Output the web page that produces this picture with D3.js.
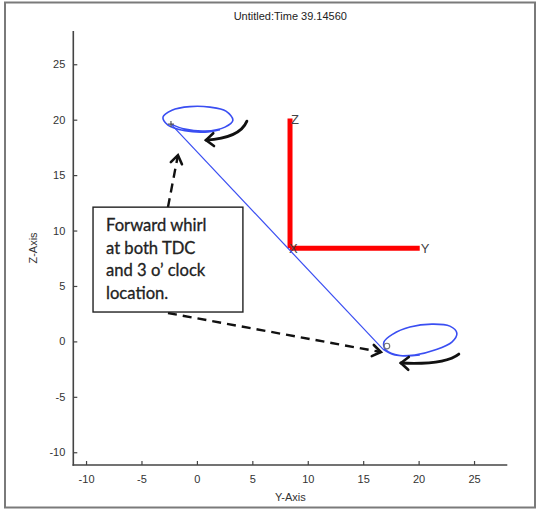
<!DOCTYPE html>
<html>
<head>
<meta charset="utf-8">
<script src="https://cdn.jsdelivr.net/npm/d3@7"></script>
<style>
  html, body { margin: 0; padding: 0; background: #fff; }
  svg { display: block; }
</style>
</head>
<body>
<svg id="chart" width="540" height="510"></svg>
<script>
// ---- data (Y = horizontal, Z = vertical) ----
const titleText = "Untitled:Time 39.14560";
const tickValues = [-10, -5, 0, 5, 10, 15, 20, 25];
const axisDomain = [-11.15, 28];

// shaft centre line between the two bearing stations
const shaftY = [-2.34, 16.78];
const shaftZ = [19.6, -0.69];

// whirl orbit traced at the upper station
const orbitTopY = [-2.34, -1.08, 0.73, 2.53, 3.25, 2.62, 1.18, -0.63, -2.25, -3.06, -2.61, -1.08, 0.73, 2.08];
const orbitTopZ = [19.6, 19.15, 18.97, 19.33, 19.96, 20.77, 21.13, 21.18, 20.86, 20.23, 19.51, 19.0, 18.88, 19.1];

// whirl orbit traced at the lower station
const orbitBotY = [16.78, 17.86, 19.66, 21.46, 23.0, 23.45, 22.82, 21.19, 19.21, 17.68, 16.87, 17.05, 18.31, 20.11];
const orbitBotZ = [-0.69, -1.23, -1.23, -0.78, -0.06, 0.75, 1.38, 1.56, 1.29, 0.66, -0.06, -0.78, -1.28, -1.23];

// reference triad
const triadOrigin = [8.4, 8.4];
const triadEndY = [20.1, 8.4];
const triadEndZ = [8.4, 20.1];

// annotation
const noteLines = ["Forward whirl", "at both TDC", "and 3 o\u2019 clock", "location."];
const noteBox = { y0: -9.37, y1: 4.15, z0: 12.11, z1: 2.65 };
const dashArrows = [
  { from: [-2.61, 12.11], to: [-1.71, 16.8] },
  { from: [-2.61, 2.56], to: [16.6, -0.96] }
];
const curveArrows = [
  { from: [4.51, 19.87], ctrl: [3.88, 18.34], to: [0.82, 18.16] },
  { from: [23.63, -1.14], ctrl: [22.37, -2.13], to: [18.4, -1.95] }
];

// ---- layout ----
const svg = d3.select("#chart");
const plotLeft = 73.3, plotRight = 507.3, plotTop = 31, plotBottom = 465;
const x = d3.scaleLinear().domain(axisDomain).range([plotLeft, plotRight]);
const y = d3.scaleLinear().domain(axisDomain).range([plotBottom, plotTop]);

// window frame
svg.append("rect")
  .attr("x", 5).attr("y", 2.5).attr("width", 530).attr("height", 505)
  .attr("fill", "#fff").attr("stroke", "#7a7a7a").attr("stroke-width", 2);

// title
svg.append("text")
  .attr("x", (plotLeft + plotRight) / 2).attr("y", 20)
  .attr("text-anchor", "middle")
  .attr("font-family", "Liberation Sans, Arial, sans-serif")
  .attr("font-size", 11).attr("fill", "#222")
  .text(titleText);

// axes (MATLAB style: ticks inside, plain hyphen minus)
const axisFont = "Liberation Sans, Arial, sans-serif";
const plain = d => String(d);
const gx = svg.append("g").attr("transform", `translate(0,${plotBottom})`)
  .call(d3.axisBottom(x).tickValues(tickValues).tickFormat(plain).tickSizeInner(-4).tickSizeOuter(0).tickPadding(10));
const gy = svg.append("g").attr("transform", `translate(${plotLeft},0)`)
  .call(d3.axisLeft(y).tickValues(tickValues).tickFormat(plain).tickSizeInner(-4).tickSizeOuter(0).tickPadding(8));
[gx, gy].forEach(g => {
  g.select(".domain").attr("stroke", "#444").attr("stroke-width", 1.6);
  g.selectAll(".tick line").attr("stroke", "#444").attr("stroke-width", 1.2);
  g.selectAll(".tick text").attr("font-family", axisFont).attr("font-size", 11).attr("fill", "#333");
});
// let the two axis lines meet at the corner
gx.select(".domain").attr("d", `M${plotLeft - 0.8},0H${plotRight}`);
gy.select(".domain").attr("d", `M0,${plotTop}V${plotBottom + 0.8}`);

svg.append("text")
  .attr("x", (plotLeft + plotRight) / 2).attr("y", 501)
  .attr("text-anchor", "middle")
  .attr("font-family", axisFont).attr("font-size", 11).attr("fill", "#333")
  .text("Y-Axis");
svg.append("text")
  .attr("transform", `translate(37,${(plotTop + plotBottom) / 2}) rotate(-90)`)
  .attr("text-anchor", "middle")
  .attr("font-family", axisFont).attr("font-size", 11).attr("fill", "#333")
  .text("Z-Axis");

// reference triad
const triad = svg.append("g");
triadEndY.forEach((ey, i) => {
  triad.append("line")
    .attr("x1", x(triadOrigin[0])).attr("y1", y(triadOrigin[1]))
    .attr("x2", x(ey)).attr("y2", y(triadEndZ[i]))
    .attr("stroke", "#ff0000").attr("stroke-width", 5);
});
const triadLabel = (t, px, py, anchor) => triad.append("text")
  .attr("x", px).attr("y", py).attr("text-anchor", anchor)
  .attr("font-family", axisFont).attr("font-size", 13).attr("fill", "#444").text(t);
triadLabel("X", x(triadOrigin[0]) - 1, y(triadOrigin[1]) + 5, "start");
triadLabel("Y", x(triadEndY[0]) + 1, y(triadEndZ[0]) + 5, "start");
triadLabel("Z", x(triadEndY[1]) + 1, y(triadEndZ[1]) + 5, "start");

// shaft line
const blue = "#3a4ef2";
svg.append("line")
  .attr("x1", x(shaftY[0])).attr("y1", y(shaftZ[0]))
  .attr("x2", x(shaftY[1])).attr("y2", y(shaftZ[1]))
  .attr("stroke", blue).attr("stroke-width", 1.2);

// orbits
const orbitLine = d3.line().x(d => x(d[0])).y(d => y(d[1])).curve(d3.curveCatmullRom.alpha(0.5));
[[orbitTopY, orbitTopZ], [orbitBotY, orbitBotZ]].forEach(([oy, oz]) => {
  svg.append("path")
    .attr("d", orbitLine(oy.map((v, i) => [v, oz[i]])))
    .attr("fill", "none").attr("stroke", blue).attr("stroke-width", 1.6);
});

// station markers
svg.append("path")
  .attr("d", `M${x(shaftY[0]) - 3},${y(shaftZ[0])}h6M${x(shaftY[0])},${y(shaftZ[0]) - 3}v6`)
  .attr("stroke", "#555").attr("stroke-width", 1.2);
svg.append("circle")
  .attr("cx", x(shaftY[1]) + 4).attr("cy", y(shaftZ[1]) - 3).attr("r", 2.8)
  .attr("fill", "none").attr("stroke", "#777").attr("stroke-width", 1.2);

// arrowhead helper: open chevron at the tip, pointing along angle ang
function chevron(g, tx, ty, ang, len, spread) {
  const a1 = ang + Math.PI - spread, a2 = ang + Math.PI + spread;
  g.append("path")
    .attr("d", `M${tx + len * Math.cos(a1)},${ty + len * Math.sin(a1)}L${tx},${ty}L${tx + len * Math.cos(a2)},${ty + len * Math.sin(a2)}`)
    .attr("fill", "none").attr("stroke", "#111").attr("stroke-width", 2.6)
    .attr("stroke-linejoin", "miter").attr("stroke-linecap", "round");
}

const notes = svg.append("g");

// dashed arrows from the note
dashArrows.forEach(a => {
  const x1 = x(a.from[0]), y1 = y(a.from[1]), x2 = x(a.to[0]), y2 = y(a.to[1]);
  notes.append("line")
    .attr("x1", x1).attr("y1", y1).attr("x2", x2).attr("y2", y2)
    .attr("stroke", "#111").attr("stroke-width", 2.4).attr("stroke-dasharray", "9,6");
  chevron(notes, x2, y2, Math.atan2(y2 - y1, x2 - x1), 10, 0.6);
});

// curved direction arrows
curveArrows.forEach(a => {
  const p0 = [x(a.from[0]), y(a.from[1])], c = [x(a.ctrl[0]), y(a.ctrl[1])], p1 = [x(a.to[0]), y(a.to[1])];
  notes.append("path")
    .attr("d", `M${p0}Q${c} ${p1}`)
    .attr("fill", "none").attr("stroke", "#111").attr("stroke-width", 2.8).attr("stroke-linecap", "round");
  chevron(notes, p1[0], p1[1], Math.atan2(p1[1] - c[1], p1[0] - c[0]), 10, 0.7);
});

// note box
notes.append("rect")
  .attr("x", x(noteBox.y0)).attr("y", y(noteBox.z0))
  .attr("width", x(noteBox.y1) - x(noteBox.y0)).attr("height", y(noteBox.z1) - y(noteBox.z0))
  .attr("fill", "#fff").attr("stroke", "#222").attr("stroke-width", 1.4);
noteLines.forEach((t, i) => {
  notes.append("text")
    .attr("x", x(noteBox.y0) + 13).attr("y", y(noteBox.z0) + 24 + i * 22.5)
    .attr("font-family", "Lato, 'Open Sans', sans-serif").attr("font-size", 16.6)
    .attr("fill", "#222").attr("stroke", "#222").attr("stroke-width", 0.3)
    .text(t);
});
</script>
</body>
</html>
